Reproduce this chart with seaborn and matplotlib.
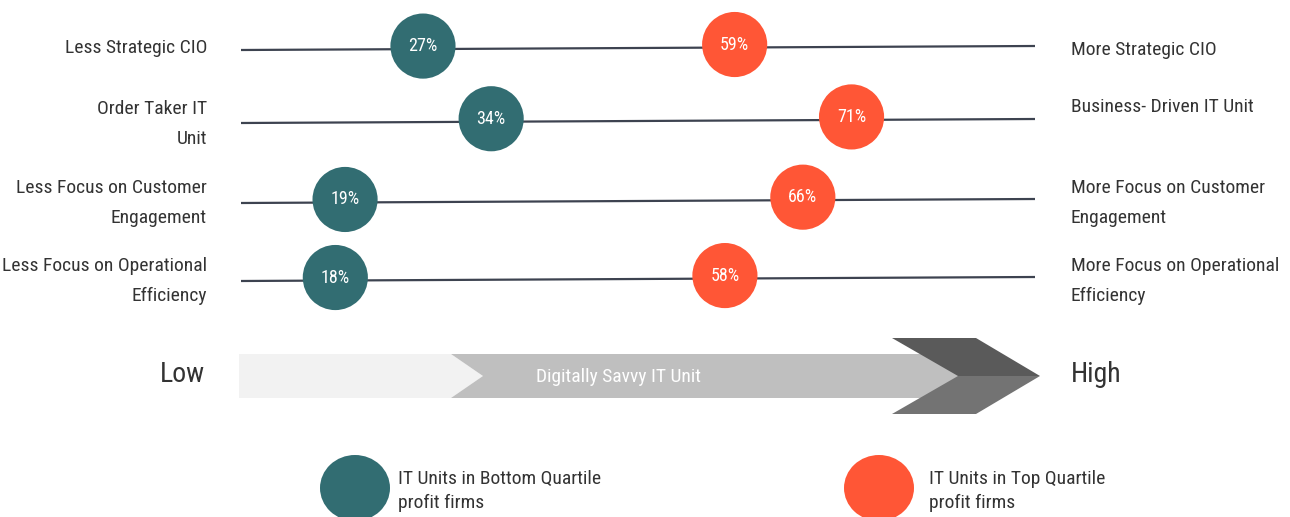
import matplotlib
matplotlib.use("Agg")
import matplotlib.pyplot as plt
from matplotlib import font_manager
from matplotlib.patches import Polygon, Ellipse
import pandas as pd
import seaborn as sns

# ---- data -------------------------------------------------------------
left_labels = [
    "Less Strategic CIO",
    "Order Taker IT\nUnit",
    "Less Focus on Customer\nEngagement",
    "Less Focus on Operational\nEfficiency",
]
right_labels = [
    "More Strategic CIO",
    "Business- Driven IT Unit",
    "More Focus on Customer\nEngagement",
    "More Focus on Operational\nEfficiency",
]
bottom_quartile = [27, 34, 19, 18]
top_quartile = [59, 71, 66, 58]
group_names = [
    "IT Units in Bottom Quartile\nprofit firms",
    "IT Units in Top Quartile\nprofit firms",
]
scale_low, scale_high = "Low", "High"
scale_title = "Digitally Savvy IT Unit"

# ---- style ------------------------------------------------------------
TEAL = "#326d72"
ORANGE = "#ff5636"
TEXT = "#333333"
LINE = "#3d4350"

sns.set_theme(style="white")
available = {f.name for f in font_manager.fontManager.ttflist}
FONT = "DejaVu Sans"
for cand in ["Liberation Sans Narrow", "Roboto Condensed", "Open Sans Condensed", "Roboto"]:
    if cand in available:
        FONT = cand
        break
plt.rcParams["font.family"] = [FONT, "DejaVu Sans"]

W, H = 1290, 517
fig = plt.figure(figsize=(W / 100, H / 100), dpi=100)
fig.patch.set_facecolor("white")

# decoration layer in pixel units
ov = fig.add_axes([0, 0, 1, 1])
ov.set_xlim(0, W)
ov.set_ylim(H, 0)
ov.axis("off")

# dot chart layer: x in percent, y in pixel rows
ax = fig.add_axes([0, 0, 1, 1])
ax.patch.set_alpha(0)
PX0, PX_PER = 160.0, 9.74
ax.set_xlim(-PX0 / PX_PER, (W - PX0) / PX_PER)
ax.set_ylim(H, 0)
ax.axis("off")

row_y = [48, 121, 201, 279]
p_left = (241 - PX0) / PX_PER
p_right = (1035 - PX0) / PX_PER


def line_y(row, p):
    return row_y[row] + 2 - 4 * (p - p_left) / (p_right - p_left)


for i in range(len(row_y)):
    ax.plot([p_left, p_right], [line_y(i, p_left), line_y(i, p_right)],
            color=LINE, lw=1.6, solid_capstyle="butt", zorder=1)

records = []
for i, (b, t) in enumerate(zip(bottom_quartile, top_quartile)):
    records.append({"row": i, "value": b, "group": group_names[0], "y": line_y(i, b) - 3})
    records.append({"row": i, "value": t, "group": group_names[1], "y": line_y(i, t) - 3})
df = pd.DataFrame(records)

sns.scatterplot(data=df, x="value", y="y", hue="group", hue_order=group_names,
                palette=[TEAL, ORANGE], s=2200, edgecolor="none", linewidth=0,
                legend=False, ax=ax, zorder=3)
for _, r in df.iterrows():
    ax.text(r["value"], r["y"], f"{r['value']}%", color="white", fontsize=13,
            ha="center", va="center", zorder=4)

# row labels
LABEL_FS = 14
left_y = [48, 124, 203, 281]
right_y = [50, 107, 203, 281]
for txt, y in zip(left_labels, left_y):
    ov.text(207, y, txt, ha="right", va="center", fontsize=LABEL_FS, color=TEXT,
            linespacing=1.9)
for txt, y in zip(right_labels, right_y):
    ov.text(1071, y, txt, ha="left", va="center", fontsize=LABEL_FS, color=TEXT,
            linespacing=1.9)

# progress arrow
ov.add_patch(Polygon([(239, 354), (451, 354), (483, 376), (451, 398), (239, 398)],
                     closed=True, facecolor="#f2f2f2", edgecolor="none"))
ov.add_patch(Polygon([(451, 354), (923, 354), (961, 376), (923, 398), (451, 398), (483, 376)],
                     closed=True, facecolor="#bfbfbf", edgecolor="none"))
ov.add_patch(Polygon([(892, 338), (976, 338), (1040, 376), (958, 376)],
                     closed=True, facecolor="#5a5a5a", edgecolor="none"))
ov.add_patch(Polygon([(958, 376), (1040, 376), (976, 414), (892, 414)],
                     closed=True, facecolor="#737373", edgecolor="none"))
ov.text(619, 377, scale_title, ha="center", va="center", fontsize=14, color="white")
ov.text(205, 374, scale_low, ha="right", va="center", fontsize=20, color=TEXT)
ov.text(1071, 374, scale_high, ha="left", va="center", fontsize=20, color=TEXT)

# legend
for cx, tx, col, name in [(355, 398, TEAL, group_names[0]), (879, 929, ORANGE, group_names[1])]:
    ov.add_patch(Ellipse((cx, 488), 70, 66, facecolor=col, edgecolor="none"))
    ov.text(tx, 491, name, ha="left", va="center", fontsize=14, color=TEXT,
            linespacing=1.4)

fig.savefig("out.png", dpi=100, facecolor="white")
